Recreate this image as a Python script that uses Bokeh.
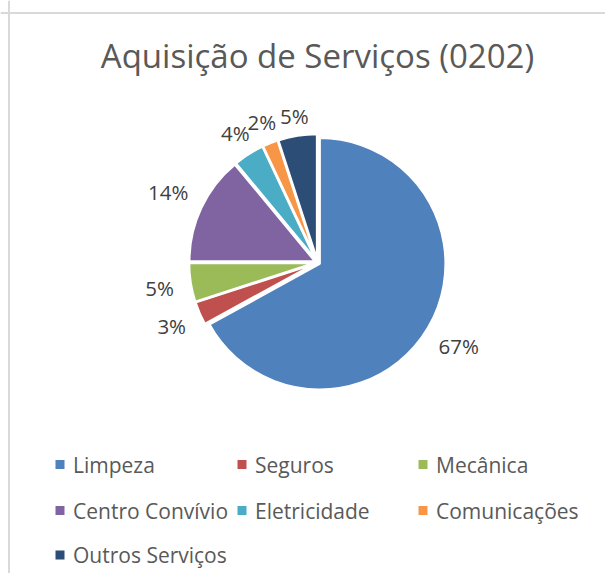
import numpy as np
from bokeh.plotting import figure
from bokeh.models import Range1d, ColumnDataSource, Span
from bokeh.core.properties import value
from bokeh.embed import file_html
from bokeh.resources import INLINE

# ---- data ----
title_text = "Aquisição de Serviços (0202)"
categories = ["Limpeza", "Seguros", "Mecânica", "Centro Convívio",
              "Eletricidade", "Comunicações", "Outros Serviços"]
shares = [67, 3, 5, 14, 4, 2, 5]
labels = ["67%", "3%", "5%", "14%", "4%", "2%", "5%"]
colors = ["#4F81BD", "#C0504D", "#9BBB59", "#8064A2",
          "#4BACC6", "#F79646", "#2C4D75"]

# ---- layout (pixel-like data space: x = px from left, y = H - px from top) ----
W, H = 605, 573
FONT = "Open Sans"
p = figure(width=W, height=H, output_backend="svg", toolbar_location=None,
           x_range=Range1d(0, W), y_range=Range1d(0, H),
           min_border=0, outline_line_color=None)
p.axis.visible = False
p.grid.visible = False
p.background_fill_color = "white"
p.border_fill_color = "white"


def Y(py):
    return H - py


# chart border (top and left only visible)
p.add_layout(Span(location=Y(12.5), dimension="width", line_color="#d9d9d9", line_width=2))
p.add_layout(Span(location=8.5, dimension="height", line_color="#d9d9d9", line_width=2))

# title
p.text(x=[317], y=[Y(55)], text=[title_text], text_font=value(FONT),
       text_font_size="33px", text_color="#595959",
       text_align="center", text_baseline="middle")

# pie
cx, cy, r = 317, Y(262), 126
vals = np.array(shares, dtype=float)
frac = vals / vals.sum()
cum = np.concatenate([[0], np.cumsum(frac)])
start = np.pi / 2 - 2 * np.pi * cum[:-1]
end = np.pi / 2 - 2 * np.pi * cum[1:]
mid = (start + end) / 2
explode = 2.5
src = ColumnDataSource(dict(
    x=cx + explode * np.cos(mid), y=cy + explode * np.sin(mid),
    start=start, end=end, color=colors, cat=categories))
p.wedge(x="x", y="y", radius=r, start_angle="start", end_angle="end",
        direction="clock", fill_color="color", line_color="white",
        line_width=2.5, source=src)

# data labels (outside end: distance grows with label half-width along x)
half_w = np.array([7.0 * len(s) for s in labels])
dist = r + 20 + np.abs(np.cos(mid)) * half_w
p.text(x=cx + dist * np.cos(mid), y=cy + dist * np.sin(mid), text=labels,
       text_font=value(FONT), text_font_size="20.5px", text_color="#404040",
       text_align="center", text_baseline="middle")

# legend (manual grid, 3 columns)
col_x = [59.5, 241.5, 422.5]
row_y = [464, 510, 554.5]
idx = np.arange(len(categories))
lx = np.array([col_x[i % 3] for i in idx], dtype=float)
ly = np.array([Y(row_y[i // 3]) for i in idx], dtype=float)
p.scatter(x=lx, y=ly, marker="square", size=9, fill_color=colors, line_color=None)
p.text(x=lx + 13, y=ly, text=categories, text_font=value(FONT),
       text_font_size="21px", text_color="#595959",
       text_align="left", text_baseline="middle")

open("out.html", "w").write(file_html(p, INLINE))
